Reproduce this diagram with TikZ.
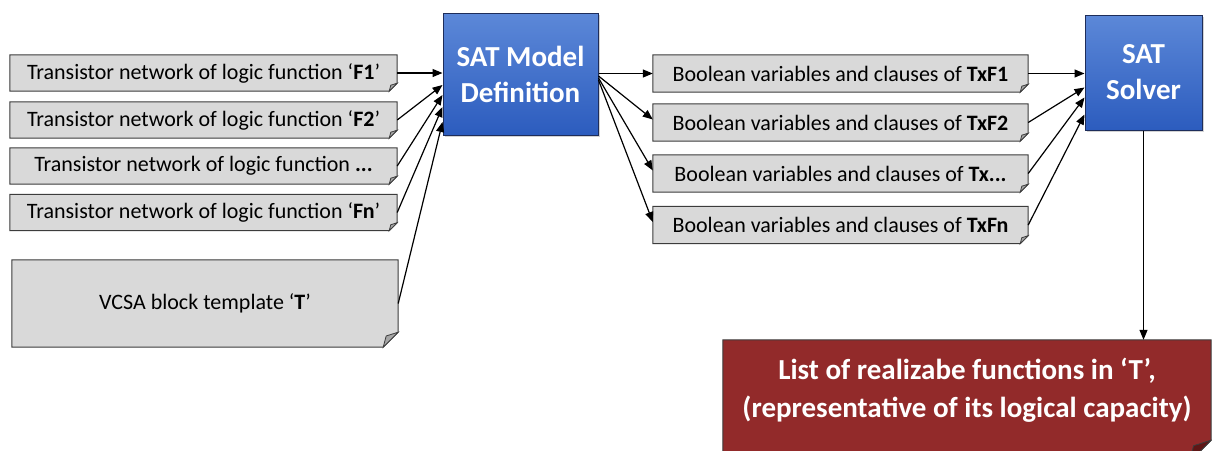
\documentclass[tikz,border=0pt]{standalone}
\usepackage{fontspec}
\setmainfont{Carlito}
\usepackage{xcolor}
\usepackage{tikz}
\usetikzlibrary{arrows.meta, positioning, calc, shadows, backgrounds}

\definecolor{notefill}{RGB}{217,217,217}
\definecolor{notefold}{RGB}{166,166,166}
\definecolor{noteline}{RGB}{60,60,60}
\definecolor{satTop}{RGB}{92,136,216}
\definecolor{satBot}{RGB}{44,92,190}
\definecolor{satline}{RGB}{30,45,90}
\definecolor{resred}{RGB}{146,42,42}
\definecolor{resfold}{RGB}{95,22,22}

% note shape with a folded bottom right corner, drawn behind a named node
\newcommand{\foldnote}[4]{%
  \filldraw[fill=#3, draw=noteline, line width=1pt]
    (#1.north west) -- (#1.north east) -- ([yshift=#2]#1.south east)
    -- ([xshift=-#2]#1.south east) -- (#1.south west) -- cycle;
  \filldraw[fill=#4, draw=noteline, line width=0.8pt]
    ([yshift=#2]#1.south east) -- ([xshift=-#2]#1.south east)
    -- ([xshift=-0.8*#2, yshift=0.75*#2]#1.south east) -- cycle;
}

\begin{document}
\begin{tikzpicture}[
    x=1pt, y=-1pt,
    netbox/.style={minimum width=387pt, minimum height=36pt, inner sep=0pt, font=\fontsize{22}{26}\selectfont},
    varbox/.style={minimum width=375pt, minimum height=37pt, inner sep=0pt, font=\fontsize{22}{26}\selectfont},
    satbox/.style={draw=satline, line width=1pt, top color=satTop, bottom color=satBot, text=white, align=center,
        inner sep=0pt, font=\fontsize{29}{36}\selectfont\bfseries,
        drop shadow={shadow xshift=2pt, shadow yshift=-2pt, opacity=0.35}},
    resbox/.style={minimum width=488pt, minimum height=122pt, inner sep=0pt, align=center, text=white,
        font=\fontsize{29}{38}\selectfont\bfseries, text depth=26pt},
    arr/.style={-{Triangle[length=10pt, width=8pt]}, line width=1.2pt}
]
    \useasboundingbox (0,0) rectangle (1212,450);
    \clip (0,0) rectangle (1212,450);

    % Inputs
    \node[netbox] (f1) at (203.5,73) {Transistor network of logic function ‘\textbf{F1}’};
    \node[netbox] (f2) at (203.5,120) {Transistor network of logic function ‘\textbf{F2}’};
    \node[netbox] (fdots) at (203.5,166) {Transistor network of logic function \textbf{...}};
    \node[netbox] (fn) at (203.5,212.5) {Transistor network of logic function ‘\textbf{Fn}’};
    \node[netbox, minimum width=386pt, minimum height=87pt] (tmpl) at (205,303.5) {VCSA block template ‘\textbf{T}’};

    % SAT model
    \node[satbox, minimum width=155pt, minimum height=122pt] (model) at (520.5,74) {SAT Model\\Definition};

    % Boolean variables
    \node[varbox] (v1) at (840.5,73.5) {Boolean variables and clauses of \textbf{TxF1}};
    \node[varbox] (v2) at (840.5,122.5) {Boolean variables and clauses of \textbf{TxF2}};
    \node[varbox] (v3) at (840.5,173.5) {Boolean variables and clauses of \textbf{Tx...}};
    \node[varbox] (v4) at (840.5,225) {Boolean variables and clauses of \textbf{TxFn}};

    % Solver and result
    \node[satbox, minimum width=117pt, minimum height=115pt] (solver) at (1143.5,72.5) {SAT\\Solver};
    \node[resbox] (result) at (967,401) {List of realizabe functions in ‘T’,\\(representative of its logical capacity)};

    \begin{scope}[on background layer]
        \foreach \n in {f1, f2, fdots, fn, v1, v2, v3, v4} {\foldnote{\n}{8pt}{notefill}{notefold}}
        \foldnote{tmpl}{15pt}{notefill}{notefold}
        \foldnote{result}{22pt}{resred}{resfold}
    \end{scope}

    % Arrows into the model
    \draw[arr] (f1.east) -- (f1.east -| model.west);
    \draw[arr] (f2.east) -- ([yshift=-11pt]model.west);
    \draw[arr] (fdots.east) -- ([yshift=-21pt]model.west);
    \draw[arr] (fn.east) -- ([yshift=-33pt]model.west);
    \draw[arr] (tmpl.east) -- ([yshift=-48pt]model.west);

    % Model to variables
    \draw[arr] (v1.west -| model.east) -- (v1.west);
    \draw[arr] ([yshift=-2pt]model.east) -- ([yshift=3pt]v2.west);
    \draw[arr] ([yshift=-4pt]model.east) -- ([yshift=3pt]v3.west);
    \draw[arr] ([yshift=-6pt]model.east) -- ([yshift=3pt]v4.west);

    % Variables to solver
    \draw[arr] (v1.east) -- (v1.east -| solver.west);
    \draw[arr] (v2.east) -- ([yshift=-15pt]solver.west);
    \draw[arr] (v3.east) -- ([yshift=-25pt]solver.west);
    \draw[arr] (v4.east) -- ([yshift=-42pt]solver.west);

    % Solver to result
    \draw[arr] (solver.south) -- (solver.south |- result.north);
\end{tikzpicture}
\end{document}
